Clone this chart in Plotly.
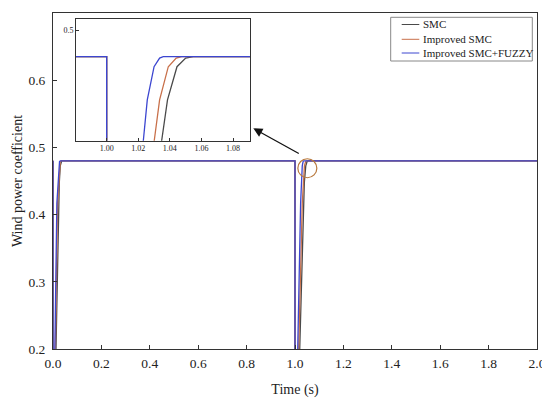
import plotly.graph_objects as go

# ---- data ----
t_smc = [0.0, 0.0, 0.004, 0.022, 0.026, 0.030, 0.033, 0.036,
         1.0, 1.0, 1.008, 1.0348, 1.0385, 1.0445, 1.050, 1.0548, 2.0]
v_smc = [0.48, 0.05, 0.05, 0.417, 0.4476, 0.4725, 0.479, 0.48,
         0.48, 0.05, 0.05, 0.417, 0.4476, 0.4725, 0.479, 0.48, 0.48]

t_imp = [0.0, 0.0, 0.003, 0.019, 0.023, 0.027, 0.030, 0.033,
         1.0, 1.0, 1.005, 1.0301, 1.0335, 1.039, 1.044, 1.0475, 2.0]
v_imp = [0.48, 0.05, 0.05, 0.417, 0.4476, 0.4725, 0.479, 0.48,
         0.48, 0.05, 0.05, 0.417, 0.4476, 0.4725, 0.479, 0.48, 0.48]

t_fuz = [0.0, 0.0, 0.002, 0.016, 0.020, 0.024, 0.027, 0.030,
         1.0, 1.0, 1.003, 1.0232, 1.0257, 1.030, 1.0335, 1.0358, 2.0]
v_fuz = [0.48, 0.05, 0.05, 0.417, 0.4476, 0.4725, 0.479, 0.48,
         0.48, 0.05, 0.05, 0.417, 0.4476, 0.4725, 0.479, 0.48, 0.48]

names = ["SMC", "Improved SMC", "Improved SMC+FUZZY"]
colors = ["#4a4a4a", "#c8704a", "#3c46d0"]

x_ticks = [0.0, 0.2, 0.4, 0.6, 0.8, 1.0, 1.2, 1.4, 1.6, 1.8, 2.0]
y_ticks = [0.2, 0.3, 0.4, 0.5, 0.6, 0.7]
inset_x_ticks = [1.00, 1.02, 1.04, 1.06, 1.08]
inset_y_ticks = [0.5]

FONT = "Liberation Serif"
AX = "#333333"
OFF = 8                      # page body margin of the html output
W, H = 550 - OFF, 398 - OFF
ML, MR, MT, MB = 53 - OFF, 13, 13 - OFF, 49
PW, PH = W - ML - MR, H - MT - MB


def px(xp):                  # page pixel x -> paper x
    return (xp - OFF - ML) / PW


def py(yp):                  # page pixel y -> paper y
    return (H - MB - (yp - OFF)) / PH


fig = go.Figure()
series = [(t_smc, v_smc), (t_imp, v_imp), (t_fuz, v_fuz)]
for (t, v), n, c in zip(series, names, colors):
    fig.add_trace(go.Scatter(x=t, y=v, mode="lines", name=n, showlegend=False,
                             line=dict(color=c, width=1.3),
                             xaxis="x", yaxis="y"))
for (t, v), n, c in zip(series, names, colors):
    fig.add_trace(go.Scatter(x=t, y=v, mode="lines", name=n, showlegend=False,
                             line=dict(color=c, width=1.3),
                             xaxis="x2", yaxis="y2"))

fig.update_layout(
    width=W, height=H,
    margin=dict(l=ML, r=MR, t=MT, b=MB),
    paper_bgcolor="white", plot_bgcolor="white",
    font=dict(family=FONT, size=13.5, color="#222"),
    xaxis=dict(range=[0, 2], tickvals=x_ticks, tickformat=".1f",
               ticks="inside", ticklen=4, tickcolor=AX, automargin=False,
               ticklabelstandoff=2,
               showline=True, linecolor=AX, linewidth=1, mirror=True,
               showgrid=False, zeroline=False,
               title=dict(text="Time (s)", font=dict(size=14))),
    yaxis=dict(range=[0.2, 0.7], tickvals=y_ticks, tickformat=".1f",
               ticks="inside", ticklen=4, tickcolor=AX, automargin=False,
               ticklabelstandoff=4,
               showline=True, linecolor=AX, linewidth=1, mirror=True,
               showgrid=False, zeroline=False,
               title=dict(text="Wind power coefficient", font=dict(size=14), standoff=2)),
    xaxis2=dict(domain=[px(76), px(250)], anchor="y2", range=[0.9806, 1.0907],
                tickvals=inset_x_ticks, tickformat=".2f", automargin=False,
                ticks="inside", ticklen=3, tickcolor=AX, tickfont=dict(size=8),
                showline=True, linecolor=AX, linewidth=1, mirror=True,
                showgrid=False, zeroline=False),
    yaxis2=dict(domain=[py(140.7), py(18.7)], anchor="x2", range=[0.417, 0.5085],
                tickvals=inset_y_ticks, tickformat=".1f", automargin=False,
                ticks="inside", ticklen=3, tickcolor=AX, tickfont=dict(size=8),
                showline=True, linecolor=AX, linewidth=1, mirror=True,
                showgrid=False, zeroline=False),
    showlegend=False,
)

# legend box (drawn manually to match compact spacing)
fig.add_shape(type="rect", xref="paper", yref="paper",
              x0=px(390.7), x1=px(532.3), y0=py(61), y1=py(17.3),
              line=dict(color="#888", width=1), fillcolor="white", layer="above")
row_y = [24.5, 39.3, 53]
for n, c, ry in zip(names, colors, row_y):
    fig.add_shape(type="line", xref="paper", yref="paper",
                  x0=px(401.7), x1=px(419.3), y0=py(ry), y1=py(ry),
                  line=dict(color=c, width=1), layer="above")
    fig.add_annotation(x=px(421), y=py(ry), xref="paper", yref="paper",
                       text=n, showarrow=False, xanchor="left", yanchor="middle",
                       font=dict(size=11, family=FONT, color="#222"))

# circle marking zoomed region
fig.add_shape(type="circle", xref="x", yref="y", xsizemode="pixel", ysizemode="pixel",
              xanchor=1.051, yanchor=0.469, x0=-9.5, x1=9.5, y0=-9.5, y1=9.5,
              line=dict(color="#b8783c", width=1.2))

# arrow from circle to inset
fig.add_annotation(x=px(253.3), y=py(128.3), xref="paper", yref="paper",
                   ax=47, ay=26, axref="pixel", ayref="pixel",
                   showarrow=True, arrowhead=2, arrowsize=1.4, arrowwidth=1.3,
                   arrowcolor="#111", text="")

fig.write_html("out.html")
